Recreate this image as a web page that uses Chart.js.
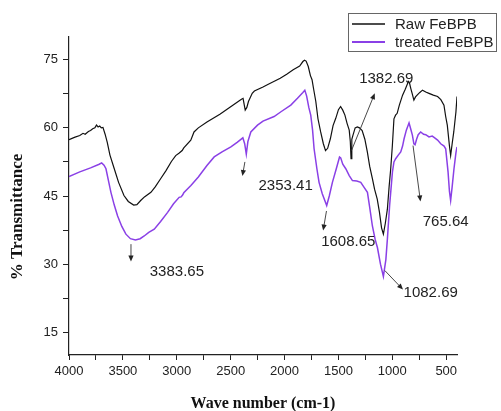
<!DOCTYPE html>
<html>
<head>
<meta charset="utf-8">
<script src="https://cdn.jsdelivr.net/npm/chart.js@4/dist/chart.umd.min.js"></script>
<style>
  html, body { margin: 0; padding: 0; background: #ffffff; }
  #wrap { width: 501px; height: 411px; position: relative; }
</style>
</head>
<body>
<div id="wrap"><canvas id="ftir" width="501" height="411"></canvas></div>
<script>
// FTIR spectra: wavenumber (cm-1) and % transmittance
const rawWave = [4000,3950,3900,3870,3850,3820,3800,3780,3760,3745,3730,3715,3700,3685,3665,3645,3620,3580,3540,3490,3450,3400,3370,3335,3300,3240,3200,3150,3100,3050,3010,2980,2950,2935,2870,2840,2800,2720,2600,2480,2400,2385,2365,2350,2335,2300,2280,2200,2160,2100,2040,1980,1920,1860,1830,1815,1800,1780,1760,1745,1730,1710,1690,1665,1640,1620,1600,1575,1550,1525,1500,1480,1460,1440,1420,1400,1390,1383,1376,1365,1345,1325,1305,1280,1255,1232,1210,1185,1165,1140,1120,1100,1083,1065,1046,1030,1015,1000,985,970,955,935,905,880,851,840,829,815,800,785,770,745,720,690,660,620,580,550,521,505,490,470,459,445,430,410,400];
const rawT = [57.4,57.9,58.3,58.8,58.6,59.2,59.4,59.8,60.0,60.6,60.2,60.4,60.0,60.1,58.6,56.8,54.0,51.0,48.0,45.1,43.8,43.0,43.1,44.0,44.8,45.8,47.0,48.8,50.6,52.6,53.9,54.4,55.0,55.6,57.3,59.1,60.0,61.3,63.0,65.0,66.3,66.5,63.9,64.5,65.8,67.6,68.1,69.0,69.5,70.2,70.9,71.8,72.8,73.6,74.6,74.9,74.7,73.5,71.5,70.6,68.5,65.8,62.0,59.1,56.5,55.0,55.5,57.6,60.5,62.1,64.0,64.7,63.9,62.8,61.0,59.5,57.0,53.2,57.5,58.4,60.0,60.2,60.0,59.4,57.5,54.7,51.5,48.8,46.5,44.3,41.5,38.0,36.6,39.0,42.1,47.0,51.0,56.0,62.0,62.8,63.2,65.0,67.2,68.5,70.2,69.8,68.7,67.5,66.1,66.8,67.2,67.8,68.3,67.9,67.6,67.2,66.9,66.2,65.0,62.5,60.6,56.0,53.9,56.5,59.1,63.5,66.9];

const treatedWave = [4000,3900,3800,3720,3697,3675,3657,3635,3611,3580,3549,3510,3472,3430,3384,3340,3302,3260,3209,3150,3085,3030,2978,2960,2946,2935,2869,2800,2720,2653,2580,2498,2440,2387,2370,2355,2340,2313,2251,2200,2097,2030,1942,1880,1830,1812,1795,1775,1757,1740,1726,1700,1680,1650,1609,1585,1556,1520,1490,1479,1460,1432,1400,1370,1330,1293,1265,1231,1210,1185,1160,1138,1110,1083,1060,1046,1025,999,985,969,945,922,905,891,870,845,830,814,800,789,775,760,737,710,690,660,630,613,580,551,520,505,483,470,459,445,428,410,400];
const treatedT = [49.3,50.3,51.2,52.0,52.3,51.8,51.0,48.5,45.8,43.0,40.6,38.3,36.6,35.6,35.3,35.6,36.2,37.0,37.7,39.4,41.4,43.3,44.7,44.8,45.2,45.7,47.3,49.2,51.7,53.6,54.7,55.8,56.8,57.8,56.5,54.2,57.0,59.1,60.6,61.5,62.5,63.6,65.0,66.5,67.8,68.3,67.0,64.5,62.8,59.5,55.4,51.0,48.0,45.5,42.9,45.0,48.0,51.0,53.6,53.4,52.0,51.0,49.5,48.4,48.3,48.0,47.0,45.8,42.5,38.4,35.5,33.6,30.0,27.3,31.0,35.5,43.0,50.3,52.5,53.2,54.0,54.7,56.0,57.6,59.5,61.1,59.8,58.4,56.5,56.3,57.5,58.5,59.1,58.6,58.5,58.0,58.2,57.9,57.3,56.5,56.0,55.4,50.3,46.0,44.0,47.0,51.0,54.5,55.8];

const seriesNames = ['Raw FeBPB', 'treated FeBPB'];

// Axis ticks: labelled majors, unlabelled minors in between
const xTicks = [4000,3750,3500,3250,3000,2750,2500,2250,2000,1750,1500,1250,1000,750,500];
const xLabels = [4000,3500,3000,2500,2000,1500,1000,500];
const yTicks = [15,22.5,30,37.5,45,52.5,60,67.5,75];
const yLabels = [15,30,45,60,75];

// Band positions called out on the spectrum
const peakLabels = [3383.65, 2353.41, 1608.65, 1382.69, 1082.69, 765.64];

const xTitle = 'Wave number (cm-1)';
const yTitle = '% Transmittance';

const colors = { raw: '#111111', treated: '#8a40e6', axis: '#222222', text: '#222222' };

// Arrow geometry for each callout, in chart units: [fromWave, fromT, toWave, toT, labelWave, labelT]
const callouts = [
  [3425, 34.4, 3425, 30.6, 2999, 28.4],
  [2368, 52.5, 2391, 49.4, 1990, 47.3],
  [1611, 41.7, 1642, 37.4, 1409, 34.8],
  [1379, 55.0, 1163, 67.6, 1056, 70.8],
  [1070, 28.6, 901, 24.4, 644, 23.7],
  [808, 56.1, 739, 43.8, 505, 39.2]
];

const toPoints = (w, t) => w.map((v, i) => ({ x: v, y: t[i] }));

function arrow(ctx, x1, y1, x2, y2) {
  const ang = Math.atan2(y2 - y1, x2 - x1);
  const head = 6, half = 2.6;
  ctx.beginPath();
  ctx.moveTo(x1, y1);
  ctx.lineTo(x2 - Math.cos(ang) * head * 0.8, y2 - Math.sin(ang) * head * 0.8);
  ctx.stroke();
  ctx.beginPath();
  ctx.moveTo(x2, y2);
  ctx.lineTo(x2 - Math.cos(ang) * head + Math.sin(ang) * half, y2 - Math.sin(ang) * head - Math.cos(ang) * half);
  ctx.lineTo(x2 - Math.cos(ang) * head - Math.sin(ang) * half, y2 - Math.sin(ang) * head + Math.cos(ang) * half);
  ctx.closePath();
  ctx.fill();
}

const decorations = {
  id: 'decorations',
  afterDatasetsDraw(chart) {
    const { ctx, scales: { x, y }, chartArea } = chart;
    ctx.save();

    // band callouts
    ctx.strokeStyle = '#333333';
    ctx.fillStyle = '#222222';
    ctx.lineWidth = 0.9;
    callouts.forEach((c, i) => {
      arrow(ctx, x.getPixelForValue(c[0]), y.getPixelForValue(c[1]),
                 x.getPixelForValue(c[2]), y.getPixelForValue(c[3]));
      ctx.font = '15px "Liberation Sans", Arial, sans-serif';
      ctx.fillStyle = colors.text;
      ctx.textAlign = 'center';
      ctx.textBaseline = 'middle';
      ctx.fillText(peakLabels[i].toFixed(2), x.getPixelForValue(c[4]), y.getPixelForValue(c[5]));
      ctx.fillStyle = '#222222';
    });

    // legend box
    ctx.strokeStyle = '#666666';
    ctx.lineWidth = 1;
    ctx.strokeRect(348.5, 13.5, 148, 38);
    const legendColors = [colors.raw, colors.treated];
    seriesNames.forEach((name, i) => {
      const ly = 24 + i * 18;
      ctx.strokeStyle = legendColors[i];
      ctx.lineWidth = i === 0 ? 1.3 : 1.8;
      ctx.beginPath();
      ctx.moveTo(352, ly);
      ctx.lineTo(385, ly);
      ctx.stroke();
      ctx.fillStyle = colors.text;
      ctx.font = '15px "Liberation Sans", Arial, sans-serif';
      ctx.textAlign = 'left';
      ctx.textBaseline = 'middle';
      ctx.fillText(name, 395, ly + 0.5);
    });

    // axis titles
    ctx.fillStyle = '#111111';
    ctx.font = 'bold 16px "Liberation Serif", "Times New Roman", serif';
    ctx.textAlign = 'center';
    ctx.textBaseline = 'middle';
    ctx.fillText(xTitle, (chartArea.left + chartArea.right) / 2, 404);
    ctx.save();
    ctx.translate(18, 217);
    ctx.rotate(-Math.PI / 2);
    ctx.font = 'bold 17px "Liberation Serif", "Times New Roman", serif';
    ctx.fillText(yTitle, 0, 0);
    ctx.restore();

    ctx.restore();
  }
};

const tickFont = { family: '"Liberation Sans", Arial, sans-serif', size: 13 };

new Chart(document.getElementById('ftir'), {
  type: 'line',
  data: {
    datasets: [
      { label: seriesNames[0], data: toPoints(rawWave, rawT), borderColor: colors.raw, borderWidth: 1.2, pointRadius: 0, tension: 0, fill: false },
      { label: seriesNames[1], data: toPoints(treatedWave, treatedT), borderColor: colors.treated, borderWidth: 1.5, pointRadius: 0, tension: 0, fill: false }
    ]
  },
  options: {
    responsive: false,
    animation: false,
    devicePixelRatio: 1,
    layout: { padding: { top: 37, right: 44, left: 0, bottom: 0 } },
    plugins: { legend: { display: false }, tooltip: { enabled: false } },
    scales: {
      x: {
        type: 'linear',
        reverse: true,
        min: 400,
        max: 4000,
        afterBuildTicks: s => { s.ticks = xTicks.map(v => ({ value: v })); },
        afterFit: s => { s.height = 56; },
        ticks: {
          autoSkip: false, maxRotation: 0, padding: 4, color: colors.text, font: tickFont,
          callback: v => xLabels.includes(v) ? String(v) : ''
        },
        grid: { drawOnChartArea: false, drawTicks: true, tickLength: 5, color: colors.axis, tickWidth: 1 },
        border: { display: true, color: colors.axis, width: 1.2 }
      },
      y: {
        type: 'linear',
        min: 10,
        max: 80,
        afterBuildTicks: s => { s.ticks = yTicks.map(v => ({ value: v })); },
        afterFit: s => { s.width = 69; },
        ticks: {
          autoSkip: false, padding: 5, color: colors.text, font: tickFont,
          callback: v => yLabels.includes(v) ? String(v) : ''
        },
        grid: { drawOnChartArea: false, drawTicks: true, tickLength: 6, color: colors.axis, tickWidth: 1 },
        border: { display: true, color: colors.axis, width: 1.2 }
      }
    }
  },
  plugins: [decorations]
});
</script>
</body>
</html>
